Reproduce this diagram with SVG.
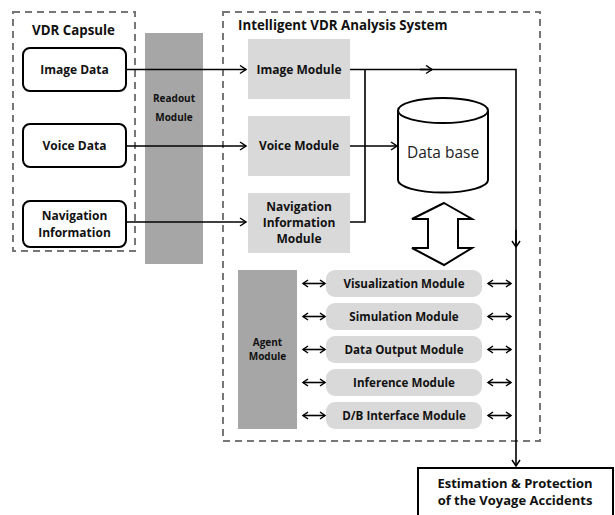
<svg xmlns="http://www.w3.org/2000/svg" width="615" height="515" viewBox="0 0 615 515">
<defs>
<marker id="ah" markerWidth="10" markerHeight="10" refX="8" refY="5" orient="auto" markerUnits="userSpaceOnUse"><path d="M2,1 L8,5 L2,9" fill="none" stroke="#000" stroke-width="1.5"/></marker>
<marker id="ahs" markerWidth="10" markerHeight="10" refX="8" refY="5" orient="auto-start-reverse" markerUnits="userSpaceOnUse"><path d="M3,1.5 L8,5 L3,8.5" fill="none" stroke="#000" stroke-width="1.5"/></marker>
</defs>
<style>
text{font-family:"Open Sans","Noto Sans","Liberation Sans",sans-serif;font-weight:bold;fill:#111;text-anchor:middle}
.t13{font-size:12px}
.t12{font-size:11.6px}
.t11{font-size:10px}
.est{font-size:13px}
.title{font-size:13.3px;text-anchor:start}
.dash{fill:none;stroke:#777;stroke-width:2;stroke-dasharray:7,5}
.ln{fill:none;stroke:#000;stroke-width:1.6}
.sub{fill:#d9d9d9}
.dark{fill:#a6a6a6}
.wb{fill:#fff;stroke:#000;stroke-width:2}
</style>
<rect width="615" height="515" fill="#fff"/>

<g id="vdr-capsule">
<rect class="dash" x="13" y="12" width="122" height="239"/>
<text class="title" x="32" y="35">VDR Capsule</text>
</g>
<g id="image-data"><rect class="wb" x="23" y="48" width="103" height="43" rx="7"/><text class="t13" x="74.5" y="74">Image Data</text></g>
<g id="voice-data"><rect class="wb" x="23" y="124" width="103" height="43" rx="7"/><text class="t13" x="74.5" y="150">Voice Data</text></g>
<g id="nav-info"><rect class="wb" x="23" y="201" width="103" height="46" rx="7"/><text class="t13" x="74.5" y="220">Navigation</text><text class="t13" x="74.5" y="237">Information</text></g>

<g id="readout"><rect class="dark" x="145" y="33" width="58" height="231"/><text class="t11" x="174" y="102">Readout</text><text class="t11" x="174" y="121">Module</text></g>

<g id="ivas">
<rect class="dash" x="223" y="12" width="317" height="429"/>
<text class="title" x="238" y="30">Intelligent VDR Analysis System</text>
</g>
<g id="image-module"><rect class="sub" x="248" y="39" width="102" height="60"/><text class="t13" x="299" y="74">Image Module</text></g>
<g id="voice-module"><rect class="sub" x="248" y="116" width="102" height="60"/><text class="t13" x="299" y="150">Voice Module</text></g>
<g id="nav-module"><rect class="sub" x="248" y="193" width="102" height="60"/><text class="t13" x="299" y="211">Navigation</text><text class="t13" x="299" y="227">Information</text><text class="t13" x="299" y="243">Module</text></g>

<g id="database">
<path class="wb" d="M398,110.5 L398,180 A45,12.5 0 0 0 488,180 L488,110.5"/>
<ellipse class="wb" cx="443" cy="110.5" rx="45" ry="12.5"/>
<text x="443" y="158" style="font-weight:normal;font-size:15.5px;fill:#222">Data base</text>
</g>

<g id="dbl-arrow"><path d="M444,203 L472,219 L458,219 L458,248 L472,248 L444,265 L412,248 L428,248 L428,219 L412,219 Z" fill="#fff" stroke="#000" stroke-width="2" stroke-linejoin="miter"/></g>

<g id="agent"><rect class="dark" x="238" y="270" width="59" height="159"/><text class="t11" x="267.5" y="346">Agent</text><text class="t11" x="267.5" y="360">Module</text></g>
<g id="vis"><rect class="sub" x="326" y="270" width="156" height="27" rx="9"/><text class="t12" x="404" y="288">Visualization Module</text></g>
<g id="sim"><rect class="sub" x="326" y="303" width="156" height="27" rx="9"/><text class="t12" x="404" y="321">Simulation Module</text></g>
<g id="dout"><rect class="sub" x="326" y="336" width="156" height="27" rx="9"/><text class="t12" x="404" y="354">Data Output Module</text></g>
<g id="inf"><rect class="sub" x="326" y="369" width="156" height="27" rx="9"/><text class="t12" x="404" y="387">Inference Module</text></g>
<g id="dbif"><rect class="sub" x="326" y="402" width="156" height="27" rx="9"/><text class="t12" x="404" y="420">D/B Interface Module</text></g>

<g id="estimation"><rect fill="#fff" stroke="#000" stroke-width="2" x="418" y="468" width="195" height="50"/><text class="est" x="515" y="488">Estimation &amp; Protection</text><text class="est" x="515" y="505">of the Voyage Accidents</text></g>

<g id="connectors">
<line class="ln" x1="126" y1="69.5" x2="246" y2="69.5" marker-end="url(#ah)"/>
<line class="ln" x1="126" y1="146" x2="246" y2="146" marker-end="url(#ah)"/>
<line class="ln" x1="126" y1="222" x2="246" y2="222" marker-end="url(#ah)"/>
<path class="ln" d="M350,69.5 H516 V466" marker-end="url(#ah)"/>
<path class="ln" d="M420,69.5 H432" marker-end="url(#ah)"/>
<path class="ln" d="M516,230 V247" marker-end="url(#ah)"/>
<path class="ln" d="M350,222 H365 V69.5"/>
<line class="ln" x1="350" y1="146" x2="397" y2="146" marker-end="url(#ah)"/>
<line class="ln" x1="303" y1="283.5" x2="325" y2="283.5" marker-start="url(#ahs)" marker-end="url(#ahs)"/>
<line class="ln" x1="303" y1="316.5" x2="325" y2="316.5" marker-start="url(#ahs)" marker-end="url(#ahs)"/>
<line class="ln" x1="303" y1="349.5" x2="325" y2="349.5" marker-start="url(#ahs)" marker-end="url(#ahs)"/>
<line class="ln" x1="303" y1="382.5" x2="325" y2="382.5" marker-start="url(#ahs)" marker-end="url(#ahs)"/>
<line class="ln" x1="303" y1="415.5" x2="325" y2="415.5" marker-start="url(#ahs)" marker-end="url(#ahs)"/>
<line class="ln" x1="488" y1="283.5" x2="511" y2="283.5" marker-start="url(#ahs)" marker-end="url(#ahs)"/>
<line class="ln" x1="488" y1="316.5" x2="511" y2="316.5" marker-start="url(#ahs)" marker-end="url(#ahs)"/>
<line class="ln" x1="488" y1="349.5" x2="511" y2="349.5" marker-start="url(#ahs)" marker-end="url(#ahs)"/>
<line class="ln" x1="488" y1="382.5" x2="511" y2="382.5" marker-start="url(#ahs)" marker-end="url(#ahs)"/>
<line class="ln" x1="488" y1="415.5" x2="511" y2="415.5" marker-start="url(#ahs)" marker-end="url(#ahs)"/>
</g>
</svg>
